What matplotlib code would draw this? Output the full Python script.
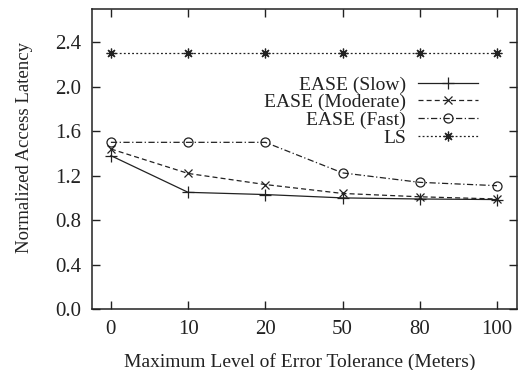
import matplotlib
matplotlib.use("Agg")
import matplotlib.pyplot as plt

plt.rcParams['font.family'] = ['Liberation Serif', 'DejaVu Serif']

categories = ["0", "10", "20", "50", "80", "100"]
ease_slow = [1.38, 1.05, 1.03, 1.00, 0.99, 0.985]
ease_moderate = [1.44, 1.22, 1.12, 1.04, 1.01, 0.99]
ease_fast = [1.50, 1.50, 1.50, 1.225, 1.14, 1.11]
ls = [2.30, 2.30, 2.30, 2.30, 2.30, 2.30]
yticks = [0.0, 0.4, 0.8, 1.2, 1.6, 2.0, 2.4]

fs = 14
tfs = 15
col = '#222222'

fig = plt.figure(figsize=(5.23, 3.70), dpi=100)
ax = fig.add_axes([92/523, 61/370, 425/523, 300/370])

x = list(range(len(categories)))
lw = 0.9
ax.plot(x, ease_slow, color=col, lw=lw, ls='-', marker='+', ms=8, mew=0.9,
        label='EASE (Slow)')
ax.plot(x, ease_moderate, color=col, lw=lw, ls=(0, (4, 2.5)), marker='x', ms=6, mew=0.9,
        label='EASE (Moderate)')
ax.plot(x, ease_fast, color=col, lw=lw, ls=(0, (5, 2, 1, 2)), marker='o', ms=6.5, mew=0.9,
        mfc='none', label='EASE (Fast)')
ax.plot(x, ls, color=col, lw=lw, ls=(0, (1.5, 1.8)), marker=(8, 2, 0), ms=7, mew=0.9,
        label='LS')

ax.set_xlim(-0.245, 5.26)
ax.set_ylim(0, 2.7)
ax.set_xticks(x)
ax.set_xticklabels(categories)
ax.set_yticks(yticks)
ax.set_yticklabels([f"{v:.1f}" for v in yticks])

ax.tick_params(direction='in', length=6, width=1, top=True, right=True,
               labelsize=tfs, colors=col)
ax.tick_params(axis='x', pad=8)
ax.tick_params(axis='y', pad=8)
for s in ax.spines.values():
    s.set_linewidth(1.1)
    s.set_color(col)

ax.set_xlabel('Maximum Level of Error Tolerance (Meters)', fontsize=fs, color=col)
ax.set_ylabel('Normalized Access Latency', fontsize=13.5, color=col)
ax.xaxis.set_label_coords(0.489, -0.147)
ax.yaxis.set_label_coords(-0.139, 0.537)

leg = ax.legend(loc='upper right', bbox_to_anchor=(0.908, 0.777), frameon=False,
                markerfirst=False, fontsize=fs, handlelength=3.1, handletextpad=0.6,
                labelspacing=0.0, borderpad=0, borderaxespad=0)
for t in leg.get_texts():
    t.set_ha('right')
    t.set_color(col)
leg._legend_box.align = "right"

fig.savefig('out.png', dpi=100)
